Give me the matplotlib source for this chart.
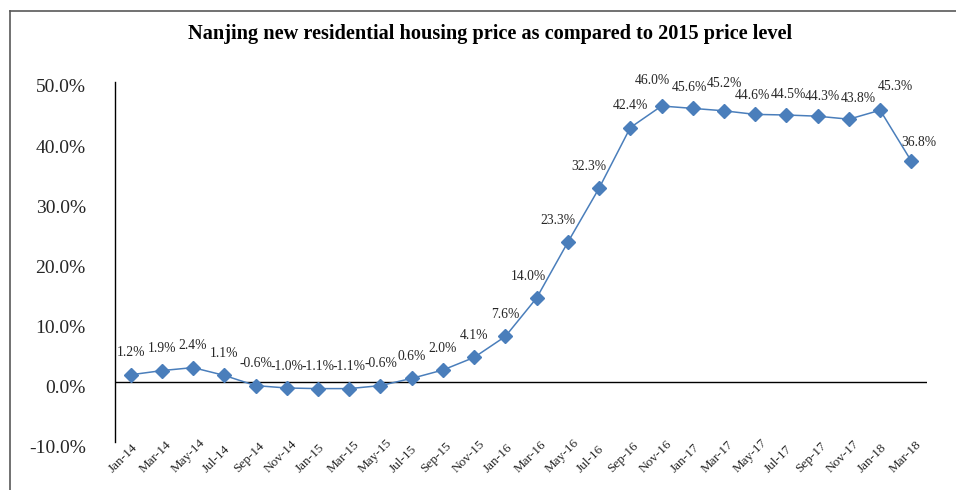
import matplotlib
matplotlib.use("Agg")
import matplotlib.pyplot as plt
import matplotlib.transforms as mtransforms
from matplotlib.lines import Line2D

plt.rcParams['font.family'] = ['Liberation Serif', 'DejaVu Serif']

title = "Nanjing new residential housing price as compared to 2015 price level"
months = ["Jan-14", "Mar-14", "May-14", "Jul-14", "Sep-14", "Nov-14",
          "Jan-15", "Mar-15", "May-15", "Jul-15", "Sep-15", "Nov-15",
          "Jan-16", "Mar-16", "May-16", "Jul-16", "Sep-16", "Nov-16",
          "Jan-17", "Mar-17", "May-17", "Jul-17", "Sep-17", "Nov-17",
          "Jan-18", "Mar-18"]
values = [1.2, 1.9, 2.4, 1.1, -0.6, -1.0,
          -1.1, -1.1, -0.6, 0.6, 2.0, 4.1,
          7.6, 14.0, 23.3, 32.3, 42.4, 46.0,
          45.6, 45.2, 44.6, 44.5, 44.3, 43.8,
          45.3, 36.8]
yticks = [-10, 0, 10, 20, 30, 40, 50]

# label nudges (pixels) mimicking Excel's automatic label placement
label_nudge = {13: (-8, 0), 14: (-10, 0), 15: (-10, 0), 17: (-9, 4),
               18: (-3, -1), 19: (0, 5), 20: (-3, -3), 21: (2, -2),
               22: (5, -2), 23: (9, -1), 24: (15, 2), 25: (7, -3)}

blue = '#4A7EBB'
text_col = '#262626'

fig = plt.figure(figsize=(9.56, 4.90), dpi=100)
W, H = 956, 490
ax = fig.add_axes([115 / W, 1 - 442 / H, (927 - 115) / W, (442 - 82) / H])

x = list(range(len(months)))
ax.plot(x, values, color=blue, lw=1.1, marker='D', markersize=7.5,
        markerfacecolor=blue, markeredgecolor=blue, zorder=3)
ax.axhline(0, color='black', lw=1.0, zorder=2)

px2pt = 0.72
for xi, v in zip(x, values):
    dx, dy = label_nudge.get(xi, (0, 0))
    ax.annotate(f"{v:.1f}%", (xi, v), xytext=(dx * px2pt, (22 + dy) * px2pt),
                textcoords='offset points',
                ha='center', va='center', fontsize=9.8, color=text_col)

ax.set_xlim(-0.5, len(months) - 0.5)
ax.set_ylim(-10, 50)
ax.set_yticks(yticks)
ax.set_yticklabels([f"{t:.1f}%" for t in yticks], fontsize=14, color=text_col)
ax.tick_params(axis='y', length=0, pad=21)
ax.set_xticks(x)
ax.set_xticklabels(months, rotation=45, ha='left', va='baseline', rotation_mode='anchor',
                   fontsize=9.5, color=text_col)
ax.tick_params(axis='x', length=0, pad=22)

offx = mtransforms.ScaledTranslation(-18 / 100, 0, fig.dpi_scale_trans)
for lab in ax.get_xticklabels():
    lab.set_transform(lab.get_transform() + offx)
offy = mtransforms.ScaledTranslation(0, -4 / 100, fig.dpi_scale_trans)
for lab in ax.get_yticklabels():
    lab.set_transform(lab.get_transform() + offy)

for s in ['top', 'right', 'bottom']:
    ax.spines[s].set_visible(False)
ax.spines['left'].set_color('black')
ax.spines['left'].set_linewidth(1.0)

fig.text(490 / W, 1 - 34 / H, title, ha='center', va='center', fontsize=14.6,
         fontweight='bold', color='black')

# outer frame (cropped at right/bottom)
fig.add_artist(Line2D([10 / W, 10 / W], [0, 1 - 11 / H], transform=fig.transFigure,
                      color='#595959', lw=1.2))
fig.add_artist(Line2D([10 / W, 1], [1 - 11 / H, 1 - 11 / H], transform=fig.transFigure,
                      color='#595959', lw=1.2))

fig.savefig('out.png', dpi=100)
